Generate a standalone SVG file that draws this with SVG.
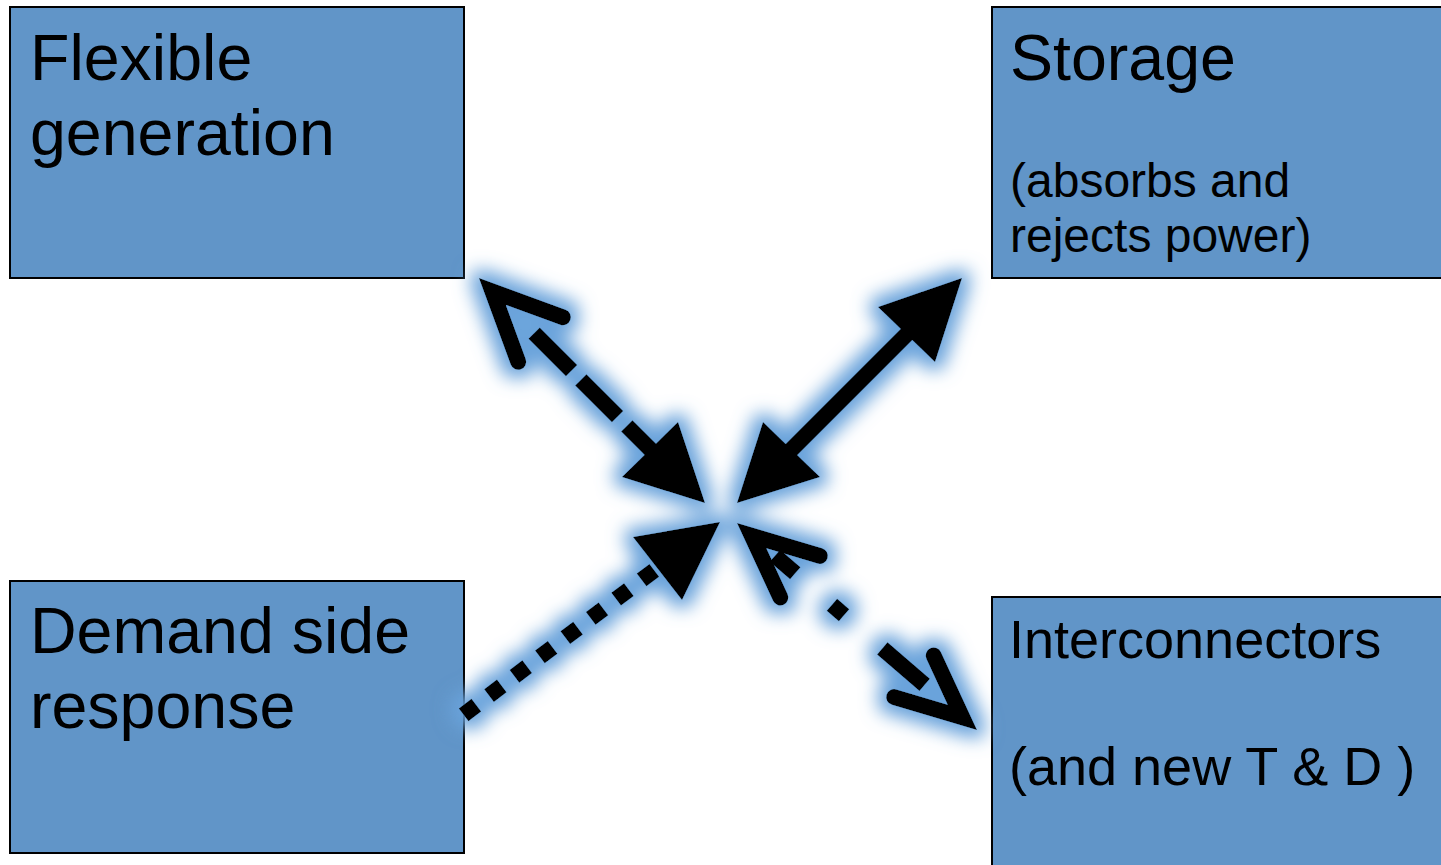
<svg xmlns="http://www.w3.org/2000/svg" width="1441" height="865" viewBox="0 0 1441 865">
<style>
.box{fill:#6195C8;stroke:#000;stroke-width:2}
.t{font-family:"Liberation Sans",Arial,sans-serif;fill:#000}
.big{font-size:64.5px}
.mid{font-size:54px}
.sm{font-size:48px}
.ln{stroke:#000;stroke-width:16;fill:none}
.open{stroke:#000;stroke-width:16;fill:none;stroke-linecap:round;stroke-linejoin:miter;stroke-miterlimit:10}
.head{fill:#000}
</style>
<defs>
<filter id="glow" filterUnits="userSpaceOnUse" x="0" y="0" width="1441" height="865">
<feMorphology in="SourceAlpha" operator="dilate" radius="8" result="d"/>
<feGaussianBlur in="d" stdDeviation="9" result="b"/>
<feFlood flood-color="#6aa3db" flood-opacity="1"/>
<feComposite in2="b" operator="in" result="g"/>
<feMerge><feMergeNode in="g"/><feMergeNode in="SourceGraphic"/></feMerge>
</filter>
</defs>
<rect width="1441" height="865" fill="#fff"/>
<g id="flexible-generation">
<rect class="box" x="10" y="7" width="454" height="271"/>
<text class="t big" x="30" y="80">Flexible</text>
<text class="t big" x="30" y="155">generation</text>
</g>
<g id="storage">
<rect class="box" x="992" y="7" width="470" height="271"/>
<text class="t big" x="1010" y="80">Storage</text>
<text class="t sm" x="1010" y="197">(absorbs and</text>
<text class="t sm" x="1010" y="252">rejects power)</text>
</g>
<g id="demand-side-response">
<rect class="box" x="10" y="581" width="454" height="272"/>
<text class="t big" x="30" y="653">Demand side</text>
<text class="t big" x="30" y="728">response</text>
</g>
<g id="interconnectors">
<rect class="box" x="992" y="597" width="470" height="290"/>
<text class="t mid" x="1009" y="658">Interconnectors</text>
<text class="t mid" x="1009" y="785">(and new T &amp; D )</text>
</g>
<g id="connectors" filter="url(#glow)">
<g id="c-flex">
<polyline class="open" points="562.8,317.2 492.4,291.4 518.2,361.8"/>
<line class="ln" x1="534.1" y1="333.1" x2="571.6" y2="370.6"/>
<line class="ln" x1="580.8" y1="379.8" x2="617.6" y2="416.6"/>
<line class="ln" x1="626.8" y1="425.8" x2="656" y2="455"/>
<polygon class="head" points="705,503 622,477 678,422"/>
</g>
<g id="c-storage">
<line class="ln" x1="910" y1="331" x2="788" y2="453"/>
<polygon class="head" points="962,278 878,307 935,362"/>
<polygon class="head" points="737,503 763,422 820,477"/>
</g>
<g id="c-demand">
<line class="ln" x1="463.6" y1="714.8" x2="654.4" y2="570.2" stroke-dasharray="16 15.9"/>
<polygon class="head" points="720,522 633,537 682,600"/>
</g>
<g id="c-inter">
<polyline class="open" points="819.8,555.9 751.7,535.7 780.3,597.4"/>
<line class="ln" x1="774.9" y1="555.7" x2="795.3" y2="573.3"/>
<rect x="830" y="602" width="16" height="16" transform="rotate(40.8 838 610)" fill="#000"/>
<line class="ln" x1="882.3" y1="648.4" x2="924.7" y2="684.9"/>
<polyline class="open" points="894.2,697.1 962.3,717.3 933.7,655.6"/>
</g>
</g>
</svg>
